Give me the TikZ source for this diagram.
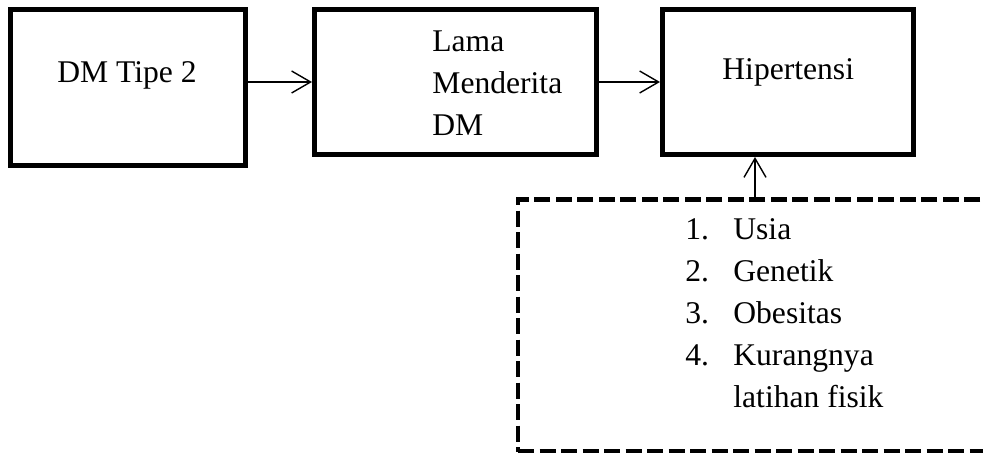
\documentclass[tikz,border=0pt]{standalone}
\usepackage{fontspec}
\setmainfont{Liberation Serif}
\usetikzlibrary{arrows.meta}
\tikzset{
  kotak/.style={draw,line width=2.4pt,minimum height=72.6pt,inner sep=0pt},
  kotakputus/.style={draw,line width=2.4pt,dash pattern=on 8pt off 2.75pt,inner sep=0pt},
  panah/.style={line width=0.7pt,-{Straight Barb[length=9.5pt,width=11pt]}},
  teks/.style={anchor=base west,inner sep=0pt,font=\fontsize{15.8}{21}\selectfont}
}
\begin{document}
\begin{tikzpicture}[x=0.5pt,y=-0.5pt]
	\useasboundingbox (0,0) rectangle (983,453);
	\clip (0,0) rectangle (983,453);
	
	% kotak
	\node[kotak,minimum width=117.6pt,minimum height=78.1pt] (dm) at (128,87.5) {};
	\node[kotak,minimum width=141.1pt] (lama) at (455.5,82) {};
	\node[kotak,minimum width=125.6pt] (hiper) at (788,82) {};
	\node[kotakputus,minimum width=246pt,minimum height=126pt] (faktor) at (764,325.75) {};
	
	% teks
	\node[teks] (tdm) at (57,83) {DM Tipe 2};
	\node[teks] (tlama) at (432,51.7) {\begin{tabular}[t]{@{}l@{}}Lama\\Menderita\\DM\end{tabular}};
	\node[teks] (thiper) at (722,80) {Hipertensi};
	\node[teks] (tfaktor) at (685,240) {\begin{tabular}[t]{@{}p{24pt}@{}l@{}}
		1.&Usia\\
		2.&Genetik\\
		3.&Obesitas\\
		4.&Kurangnya\\
		&latihan fisik
	\end{tabular}};
	
	% panah
	\coordinate (naik) at ([xshift=-16.5pt]hiper.south);
	\draw[panah] (dm.east |- lama.west) -- (lama.west);
	\draw[panah] (lama.east) -- (hiper.west);
	\draw[panah] (naik |- faktor.north) -- (naik);
\end{tikzpicture}
\end{document}
